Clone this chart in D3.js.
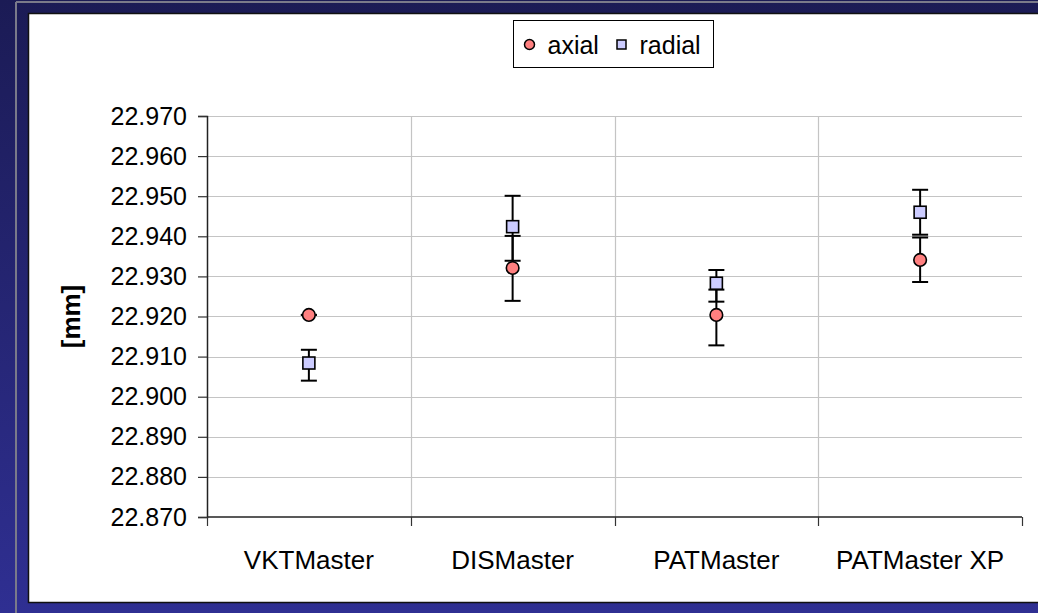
<!DOCTYPE html>
<html>
<head>
<meta charset="utf-8">
<script src="https://cdn.jsdelivr.net/npm/d3@7"></script>
<style>
  html, body { margin: 0; padding: 0; background: #1e1e5e; }
  svg { display: block; font-family: Arial, "Liberation Sans", sans-serif; }
</style>
</head>
<body>
<div id="chart"></div>
<script>
'use strict';

// values
const categories = ['VKTMaster', 'DISMaster', 'PATMaster', 'PATMaster XP'];
const axialValues = [22.9204, 22.9321, 22.9204, 22.9341];
const axialLow    = [22.9204, 22.9239, 22.9128, 22.9286];
const axialHigh   = [22.9204, 22.9401, 22.9267, 22.9397];
const radialValues = [22.9084, 22.9424, 22.9283, 22.9460];
const radialLow    = [22.9040, 22.9339, 22.9237, 22.9404];
const radialHigh   = [22.9117, 22.9501, 22.9316, 22.9516];
const yTicks = [22.87, 22.88, 22.89, 22.90, 22.91, 22.92, 22.93, 22.94, 22.95, 22.96, 22.97];
const seriesNames = ['axial', 'radial'];

const W = 1038, H = 613;
const plot = { left: 207, right: 1022, top: 116, bottom: 517 };
const fontSize = '25px';

const svg = d3.select('#chart').append('svg')
  .attr('width', W).attr('height', H);

// slide background
const defs = svg.append('defs');
const grad = defs.append('linearGradient').attr('id', 'bg')
  .attr('x1', 0).attr('y1', 0).attr('x2', 0).attr('y2', 1);
grad.append('stop').attr('offset', '0%').attr('stop-color', '#1b1b55');
grad.append('stop').attr('offset', '100%').attr('stop-color', '#2f2f92');
svg.append('rect').attr('width', W).attr('height', H).attr('fill', 'url(#bg)');
svg.append('line').attr('x1', 16).attr('x2', 16).attr('y1', 2).attr('y2', H)
  .attr('stroke', '#7a7a8a').attr('stroke-width', 2);
svg.append('line').attr('x1', 16).attr('x2', W).attr('y1', 2).attr('y2', 2)
  .attr('stroke', '#7a7a8a').attr('stroke-width', 2);

// white chart panel
svg.append('rect').attr('x', 28.5).attr('y', 13.5).attr('width', W).attr('height', 589)
  .attr('fill', '#fff').attr('stroke', '#111').attr('stroke-width', 1.5);

const x = d3.scaleBand().domain(categories).range([plot.left, plot.right]);
const y = d3.scaleLinear().domain([22.87, 22.97]).range([plot.bottom, plot.top]);

const g = svg.append('g');

// horizontal gridlines
g.selectAll('.hgrid').data(yTicks.slice(1)).enter().append('line')
  .attr('class', 'hgrid')
  .attr('x1', plot.left).attr('x2', plot.right)
  .attr('y1', d => Math.round(y(d)) + 0.5).attr('y2', d => Math.round(y(d)) + 0.5)
  .attr('stroke', '#c4c4c4').attr('stroke-width', 1.2);

// vertical gridlines between categories
g.selectAll('.vgrid').data(categories.slice(1)).enter().append('line')
  .attr('class', 'vgrid')
  .attr('x1', d => Math.round(x(d)) + 0.5).attr('x2', d => Math.round(x(d)) + 0.5)
  .attr('y1', plot.top).attr('y2', plot.bottom)
  .attr('stroke', '#c4c4c4').attr('stroke-width', 1.2);

// y axis
const yAxis = d3.axisLeft(y).tickValues(yTicks).tickSize(9).tickPadding(11)
  .tickFormat(d3.format('.3f'));
const $yAxis = g.append('g').attr('transform', `translate(${plot.left},0)`).call(yAxis);
$yAxis.select('.domain').attr('stroke', '#222').attr('stroke-width', 1.5);
$yAxis.selectAll('.tick line').attr('stroke', '#333').attr('stroke-width', 1.2);
$yAxis.selectAll('.tick text').attr('fill', '#000')
  .style('font-size', fontSize).style('font-family', 'Arial, "Liberation Sans", sans-serif');

// x axis, ticks at category boundaries
const $xAxis = g.append('g').attr('transform', `translate(0,${plot.bottom})`);
$xAxis.append('line').attr('x1', plot.left).attr('x2', plot.right)
  .attr('stroke', '#222').attr('stroke-width', 1.5);
const bounds = categories.map(c => x(c)).concat([plot.right]);
$xAxis.selectAll('.xtick').data(bounds).enter().append('line')
  .attr('x1', d => Math.round(d) + 0.5).attr('x2', d => Math.round(d) + 0.5)
  .attr('y1', 0).attr('y2', 9)
  .attr('stroke', '#333').attr('stroke-width', 1.2);
$xAxis.selectAll('.xlabel').data(categories).enter().append('text')
  .attr('x', d => x(d) + x.bandwidth() / 2)
  .attr('y', 52)
  .attr('text-anchor', 'middle')
  .style('font-size', '26px')
  .text(d => d);

// y axis title
svg.append('text')
  .attr('transform', `translate(80,${(plot.top + plot.bottom) / 2}) rotate(-90)`)
  .attr('text-anchor', 'middle')
  .style('font-size', '26px').style('font-weight', 'bold')
  .text('[mm]');

// build series rows
const series = [
  { name: 'axial', values: axialValues, low: axialLow, high: axialHigh },
  { name: 'radial', values: radialValues, low: radialLow, high: radialHigh }
];
const points = [];
series.forEach(s => {
  categories.forEach((c, i) => {
    points.push({ series: s.name, cat: c, v: s.values[i], lo: s.low[i], hi: s.high[i] });
  });
});

const cx = d => x(d.cat) + x.bandwidth() / 2;
const capW = 8;

// error bars first, markers above
const $err = g.append('g').attr('class', 'errors')
  .attr('stroke', '#000').attr('stroke-width', 2);
points.forEach(d => {
  const X = cx(d);
  $err.append('line').attr('x1', X).attr('x2', X).attr('y1', y(d.lo)).attr('y2', y(d.hi));
  $err.append('line').attr('x1', X - capW).attr('x2', X + capW).attr('y1', y(d.lo)).attr('y2', y(d.lo));
  $err.append('line').attr('x1', X - capW).attr('x2', X + capW).attr('y1', y(d.hi)).attr('y2', y(d.hi));
});

const $marks = g.append('g').attr('class', 'markers');
$marks.selectAll('circle').data(points.filter(d => d.series === 'axial')).enter()
  .append('circle')
  .attr('cx', cx).attr('cy', d => y(d.v)).attr('r', 6.3)
  .attr('fill', '#ff8080').attr('stroke', '#000').attr('stroke-width', 1.6);
$marks.selectAll('rect').data(points.filter(d => d.series === 'radial')).enter()
  .append('rect')
  .attr('x', d => cx(d) - 6).attr('y', d => y(d.v) - 6)
  .attr('width', 12).attr('height', 12)
  .attr('fill', '#ccccff').attr('stroke', '#000').attr('stroke-width', 1.6);

// legend
const legend = svg.append('g').attr('transform', 'translate(513.5,20.5)');
legend.append('rect').attr('width', 200).attr('height', 47)
  .attr('fill', '#fff').attr('stroke', '#000').attr('stroke-width', 1);
const legendItems = [
  { name: seriesNames[0], mx: 16, tx: 34 },
  { name: seriesNames[1], mx: 108, tx: 126 }
];
legendItems.forEach((it, i) => {
  if (i === 0) {
    legend.append('circle').attr('cx', it.mx).attr('cy', 24).attr('r', 5)
      .attr('fill', '#ff8080').attr('stroke', '#000').attr('stroke-width', 1.5);
  } else {
    legend.append('rect').attr('x', it.mx - 4.5).attr('y', 19.5).attr('width', 9).attr('height', 9)
      .attr('fill', '#ccccff').attr('stroke', '#000').attr('stroke-width', 1.5);
  }
  legend.append('text').attr('x', it.tx).attr('y', 33)
    .style('font-size', fontSize).text(it.name);
});
</script>
</body>
</html>
